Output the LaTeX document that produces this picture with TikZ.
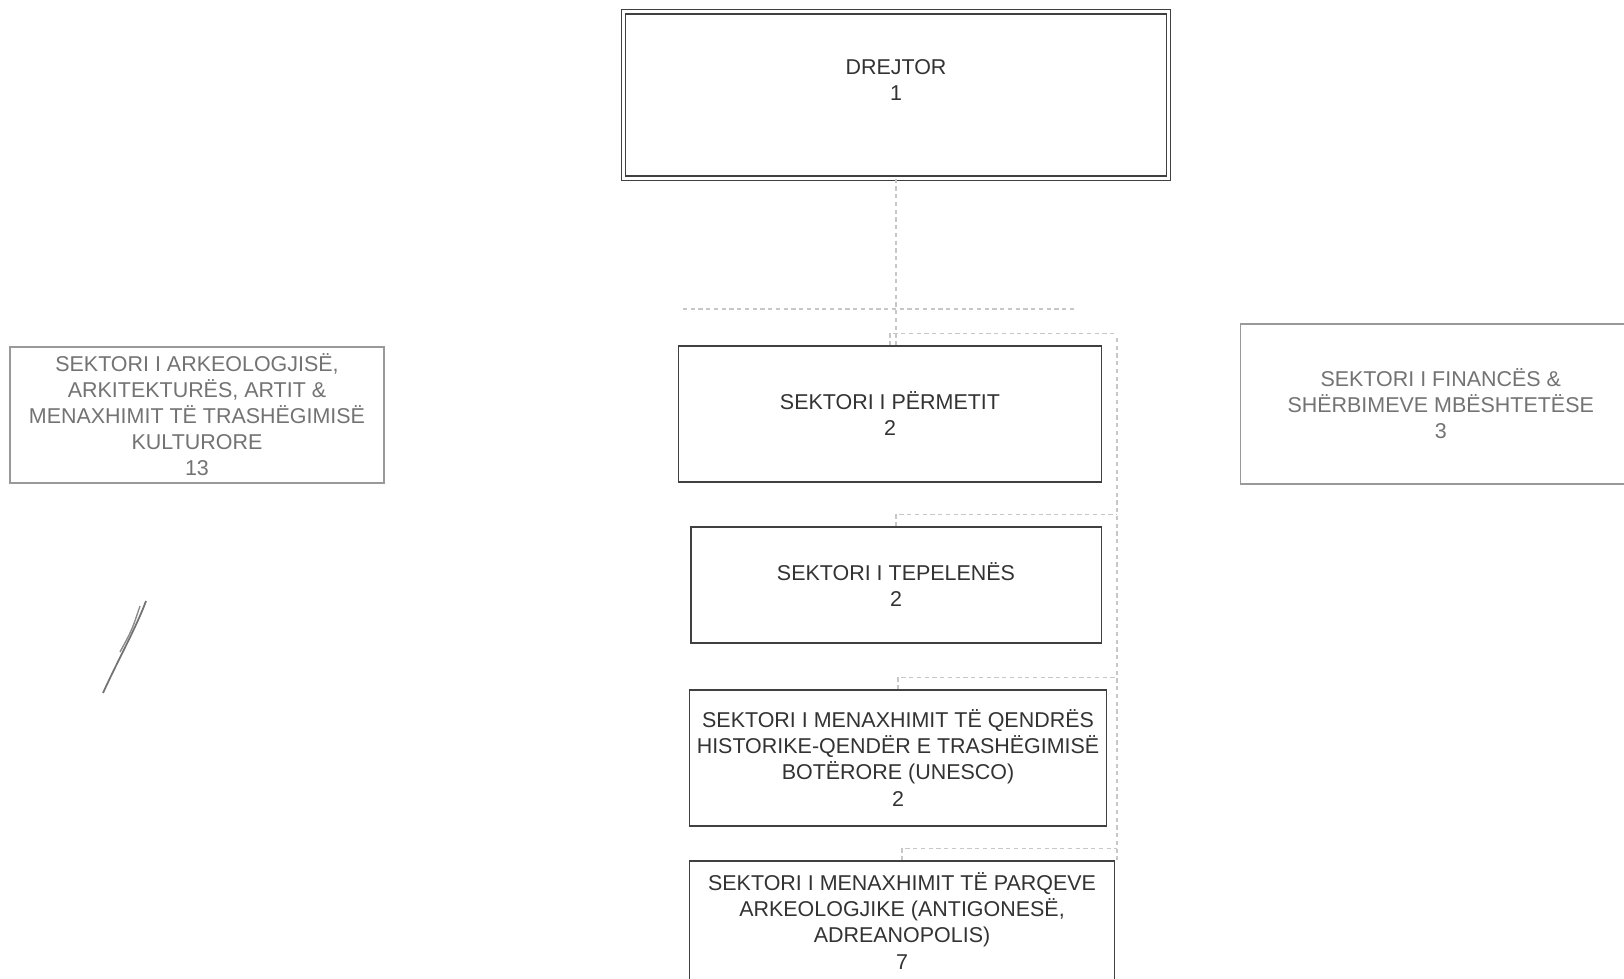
\documentclass[tikz,border=0pt]{standalone}
\usepackage{fontspec}
\setmainfont{Liberation Sans}
\usepackage{tikz}
\usetikzlibrary{positioning,calc}

\tikzset{
  sektor/.style={draw=black!75, line width=0.35pt, align=center, inner sep=0pt,
    font=\fontsize{6.1}{7.4}\selectfont, text=black!80},
  zbehur/.style={draw=black!40, text=black!55},
  lidhje/.style={draw=black!22, line width=0.4pt, dash pattern=on 1.2pt off 1pt}
}

\begin{document}
\begin{tikzpicture}[x=0.01cm, y=-0.01cm]
    \clip (0,0) rectangle (1624,979);
    \fill[white] (0,0) rectangle (1624,979);

    % Drejtori
    \node[sektor, double, double distance=0.85pt, minimum width=5.45cm, minimum height=1.66cm] (drejtor) at (896,95) {};
    \node[sektor, draw=none] (drejtorTxt) at (896,80) {DREJTOR\\1};

    % Sektoret ne qender
    \node[sektor, minimum width=4.23cm, minimum height=1.36cm] (permet) at (890,414) {SEKTORI I PËRMETIT\\2};
    \node[sektor, minimum width=4.10cm, minimum height=1.16cm] (tepelene) at (896,585) {SEKTORI I TEPELENËS\\2};
    \node[sektor, minimum width=4.17cm, minimum height=1.36cm] (unesco) at (898,758) {SEKTORI I MENAXHIMIT TË QENDRËS\\HISTORIKE-QENDËR E TRASHËGIMISË\\BOTËRORE (UNESCO)\\2};
    \node[sektor, minimum width=4.25cm, minimum height=1.20cm] (parqe) at (902,921) {SEKTORI I MENAXHIMIT TË PARQEVE\\ARKEOLOGJIKE (ANTIGONESË,\\ADREANOPOLIS)\\7};

    % Sektoret anash
    \node[sektor, zbehur, minimum width=3.74cm, minimum height=1.36cm] (arkeologji) at (197,415) {SEKTORI I ARKEOLOGJISË,\\ARKITEKTURËS, ARTIT \&\\MENAXHIMIT TË TRASHËGIMISË\\KULTURORE\\13};
    \node[sektor, zbehur, minimum width=4.0cm, minimum height=1.60cm, anchor=west] (financa) at (1240,404) {SEKTORI I FINANCËS \&\\SHËRBIMEVE MBËSHTETËSE\\3};

    % Lidhjet
    \coordinate (busL) at (683,309);
    \coordinate (busR) at (1077,309);
    \coordinate (shtylle) at (1117,338);
    \draw[lidhje] (drejtor.south) -- (drejtor.south |- permet.north);
    \draw[lidhje] (busL) -- (busR);
    \draw[lidhje] (shtylle) -- (shtylle |- parqe.north);
    \foreach \s in {permet,tepelene,unesco,parqe}
        \draw[lidhje] (\s.north) -- ++(0,-12) coordinate (p) -- (p -| shtylle);

    % Firma
    \draw[black!55, line width=0.5pt] (146,601) .. controls (136,628) and (118,660) .. (103,693);
    \draw[black!45, line width=0.4pt] (140,606) .. controls (132,630) .. (120,652);
\end{tikzpicture}
\end{document}
